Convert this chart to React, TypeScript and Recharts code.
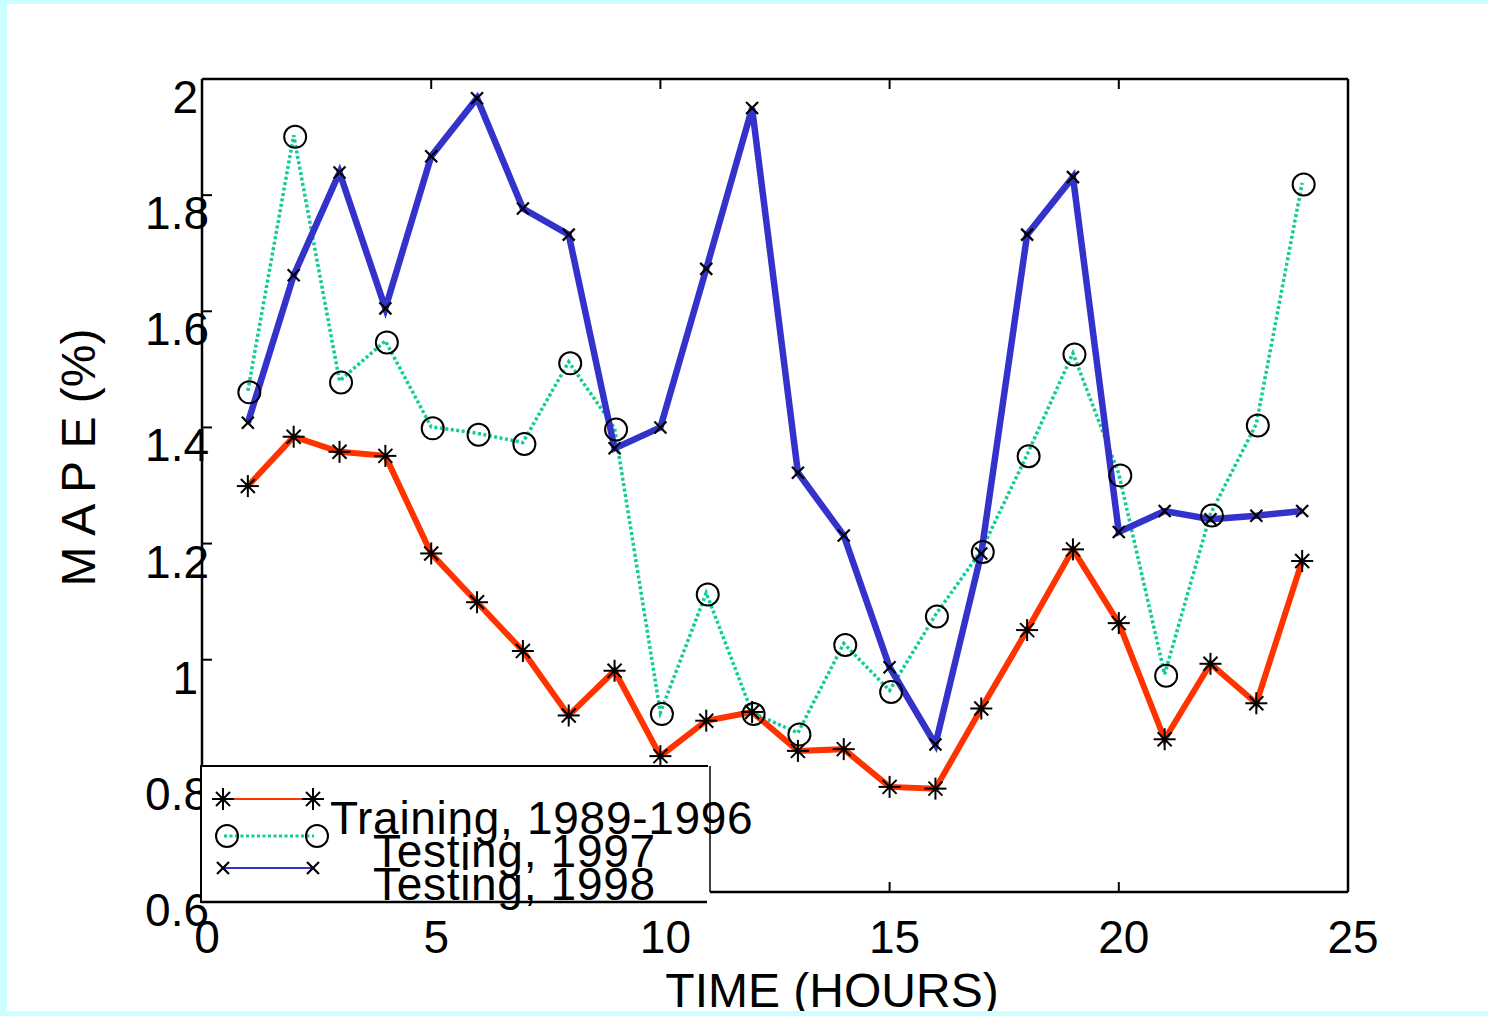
import React from 'react';
import { LineChart, Line, XAxis, YAxis, Legend } from 'recharts';

const hours = [1, 2, 3, 4, 5, 6, 7, 8, 9, 10, 11, 12, 13, 14, 15, 16, 17, 18, 19, 20, 21, 22, 23, 24];
const training = [1.299, 1.384, 1.358, 1.351, 1.183, 1.099, 1.015, 0.904, 0.981, 0.834, 0.895, 0.910, 0.843, 0.846, 0.781, 0.778, 0.916, 1.051, 1.190, 1.063, 0.863, 0.993, 0.925, 1.170];
const testing1997 = [1.463, 1.903, 1.480, 1.549, 1.401, 1.390, 1.374, 1.513, 1.399, 0.909, 1.115, 0.909, 0.874, 1.028, 0.947, 1.077, 1.188, 1.353, 1.528, 1.320, 0.975, 1.251, 1.406, 1.821];
const testing1998 = [1.408, 1.662, 1.839, 1.605, 1.867, 1.967, 1.777, 1.732, 1.364, 1.400, 1.673, 1.950, 1.322, 1.214, 0.987, 0.854, 1.183, 1.732, 1.831, 1.220, 1.256, 1.242, 1.248, 1.256];

const xTicks = [0, 5, 10, 15, 20, 25];
const yTicks = [0.6, 0.8, 1, 1.2, 1.4, 1.6, 1.8, 2];
const seriesNames = ['Training, 1989-1996', 'Testing, 1997', 'Testing, 1998'];
const seriesColors = ['#ff3300', '#10cc9a', '#3333cc'];
const xLabel = 'TIME (HOURS)';
const yLabel = 'M A P E (%)';

const data = hours.map((h, i) => ({ hour: h, training: training[i], t1997: testing1997[i], t1998: testing1998[i] }));

const FONT = '"Liberation Sans", Arial, Helvetica, sans-serif';

const Star = ({ cx, cy }: any) => (
  <g stroke="#000" strokeWidth={2}>
    <line x1={cx} y1={cy - 11} x2={cx} y2={cy + 11} />
    <line x1={cx - 11} y1={cy} x2={cx + 11} y2={cy} />
    <line x1={cx - 7} y1={cy - 7} x2={cx + 7} y2={cy + 7} />
    <line x1={cx - 7} y1={cy + 7} x2={cx + 7} y2={cy - 7} />
  </g>
);
const Ring = ({ cx, cy }: any) => <circle cx={cx} cy={cy} r={11} fill="none" stroke="#000" strokeWidth={2} />;
const Cross = ({ cx, cy }: any) => (
  <g stroke="#000" strokeWidth={2.2}>
    <line x1={cx - 6} y1={cy - 6} x2={cx + 6} y2={cy + 6} />
    <line x1={cx - 6} y1={cy + 6} x2={cx + 6} y2={cy - 6} />
  </g>
);

const BottomTick = (p: any) => (
  <g>
    <line x1={p.x} y1={p.y} x2={p.x} y2={p.y - 10} stroke="#000" strokeWidth={2} />
    <text x={p.x + 5} y={p.y + 61} textAnchor="middle" fontSize={46} fontFamily={FONT} fill="#000">{String(p.payload.value)}</text>
  </g>
);
const TopTick = (p: any) => <line x1={p.x} y1={p.y} x2={p.x} y2={p.y + 10} stroke="#000" strokeWidth={2} />;
const LeftTick = (p: any) => {
  const s = String(p.payload.value);
  const dec = s.includes('.');
  return (
    <g>
      <line x1={p.x} y1={p.y} x2={p.x + 10} y2={p.y} stroke="#000" strokeWidth={2} />
      <text x={p.x + (dec ? 7 : -4)} y={p.y + 34} textAnchor="end" fontSize={46} fontFamily={FONT} fill="#000">{s}</text>
    </g>
  );
};
const RightTick = (p: any) => <line x1={p.x} y1={p.y} x2={p.x - 10} y2={p.y} stroke="#000" strokeWidth={2} />;

const XTitle = (props: any) => {
  const vb = props.viewBox;
  return (
    <text x={vb.x + vb.width / 2 + 57} y={vb.y + 115} textAnchor="middle" fontSize={48} fontFamily={FONT} fill="#000">{xLabel}</text>
  );
};
const YTitle = (props: any) => {
  const vb = props.viewBox;
  const x = vb.x + vb.width - 107;
  const y = vb.y + vb.height / 2 - 28;
  return (
    <text x={x} y={y} transform={`rotate(-90, ${x}, ${y})`} textAnchor="middle" fontSize={48} fontFamily={FONT} fill="#000">{yLabel}</text>
  );
};

const LG_LEFT = 200;
const LG_TOP = 765;
const LegendBox = () => {
  const ox = -LG_LEFT;
  const oy = -LG_TOP;
  const rows = [799, 836, 868];
  const textPos = [[330, 834], [373, 867], [373, 900]];
  return (
    <svg width={560} height={140} style={{ display: 'block', overflow: 'visible' }}>
      <g transform={`translate(${ox}, ${oy})`}>
        <rect x={202} y={766} width={508} height={136} fill="#fff" />
        <line x1={201} y1={766} x2={708} y2={766} stroke="#000" strokeWidth={2} />
        <line x1={201} y1={765} x2={201} y2={903} stroke="#000" strokeWidth={2} />
        <line x1={710} y1={766} x2={710} y2={892} stroke="#000" strokeWidth={1.5} />
        <line x1={201} y1={902} x2={707} y2={902} stroke="#000" strokeWidth={2.5} />
        <line x1={223} y1={rows[0]} x2={313} y2={rows[0]} stroke={seriesColors[0]} strokeWidth={2} />
        <Star cx={223} cy={rows[0]} />
        <Star cx={313} cy={rows[0]} />
        <line x1={224} y1={rows[1]} x2={314} y2={rows[1]} stroke={seriesColors[1]} strokeWidth={3} strokeDasharray="3 2.5" />
        <Ring cx={227} cy={rows[1]} />
        <Ring cx={317} cy={rows[1]} />
        <line x1={223} y1={rows[2]} x2={313} y2={rows[2]} stroke={seriesColors[2]} strokeWidth={2} />
        <Cross cx={223} cy={rows[2]} />
        <Cross cx={313} cy={rows[2]} />
        {seriesNames.map((n, i) => (
          <text key={n} x={textPos[i][0]} y={textPos[i][1]} fontSize={46} letterSpacing={0.7} fontFamily={FONT} fill="#000">{n}</text>
        ))}
      </g>
    </svg>
  );
};

export default function App() {
  return (
    <div style={{ position: 'absolute', left: 0, top: 0, width: 1488, height: 1016, background: '#ccffff', overflow: 'hidden' }}>
      <div style={{ position: 'absolute', left: 7, top: 4, width: 1481, height: 1007, background: '#ffffff' }} />
      <div style={{ position: 'absolute', left: 0, top: 0 }}>
        <LineChart width={1488} height={1016} data={data} margin={{ top: 69, right: 130, bottom: 64, left: 102 }}>
          <XAxis
            dataKey="hour"
            type="number"
            domain={[0, 25]}
            ticks={xTicks}
            interval={0}
            height={60}
            tickSize={0}
            tickMargin={0}
            tickLine={false}
            axisLine={{ stroke: '#000', strokeWidth: 2.5 }}
            tick={BottomTick}
            label={XTitle}
          />
          <XAxis
            xAxisId="top"
            orientation="top"
            dataKey="hour"
            type="number"
            domain={[0, 25]}
            ticks={xTicks}
            interval={0}
            height={10}
            tickSize={0}
            tickMargin={0}
            tickLine={false}
            axisLine={{ stroke: '#000', strokeWidth: 2.5 }}
            tick={TopTick}
          />
          <YAxis
            type="number"
            domain={[0.6, 2]}
            ticks={yTicks}
            interval={0}
            width={100}
            tickSize={0}
            tickMargin={0}
            tickLine={false}
            axisLine={{ stroke: '#000', strokeWidth: 2.5 }}
            tick={LeftTick}
            label={YTitle}
          />
          <YAxis
            yAxisId="right"
            orientation="right"
            type="number"
            domain={[0.6, 2]}
            ticks={yTicks}
            interval={0}
            width={10}
            tickSize={0}
            tickMargin={0}
            tickLine={false}
            axisLine={{ stroke: '#000', strokeWidth: 2.5 }}
            tick={RightTick}
          />
          <Line
            type="linear"
            dataKey="training"
            name={seriesNames[0]}
            stroke={seriesColors[0]}
            strokeWidth={6}
            dot={(p: any) => <Star key={`s${p.index}`} cx={p.cx} cy={p.cy} />}
            activeDot={false}
            isAnimationActive={false}
          />
          <Line
            type="linear"
            dataKey="t1997"
            name={seriesNames[1]}
            stroke={seriesColors[1]}
            strokeWidth={3.5}
            strokeDasharray="3 2.5"
            dot={(p: any) => <Ring key={`r${p.index}`} cx={p.cx + 1.5} cy={p.cy + 1.5} />}
            activeDot={false}
            isAnimationActive={false}
          />
          <Line
            type="linear"
            dataKey="t1998"
            name={seriesNames[2]}
            stroke={seriesColors[2]}
            strokeWidth={6.5}
            dot={(p: any) => <Cross key={`c${p.index}`} cx={p.cx} cy={p.cy} />}
            activeDot={false}
            isAnimationActive={false}
          />
          <Legend
            layout="horizontal"
            verticalAlign="middle"
            align="center"
            wrapperStyle={{ position: 'absolute', left: LG_LEFT, top: LG_TOP, width: 560, height: 140, margin: 0, padding: 0, pointerEvents: 'none' }}
            content={() => <LegendBox />}
          />
        </LineChart>
      </div>
      <div style={{ position: 'absolute', left: 0, top: 1011, width: 1488, height: 5, background: '#ccffff' }} />
    </div>
  );
}
